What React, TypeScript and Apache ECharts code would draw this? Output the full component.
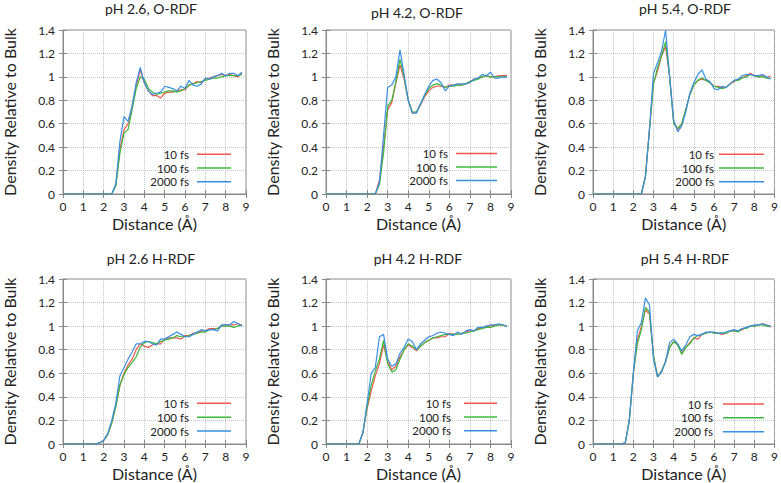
import React, { useEffect, useRef } from "react";
import * as echarts from "echarts";

const distance = [
  0, 0.2, 0.4, 0.6, 0.8, 1.0, 1.2, 1.4, 1.6, 1.8, 2.0, 2.2, 2.4, 2.6, 2.8, 3.0,
  3.2, 3.4, 3.6, 3.8, 4.0, 4.2, 4.4, 4.6, 4.8, 5.0, 5.2, 5.4, 5.6, 5.8, 6.0,
  6.2, 6.4, 6.6, 6.8, 7.0, 7.2, 7.4, 7.6, 7.8, 8.0, 8.2, 8.4, 8.6, 8.8,
];

const seriesNames = ["10 fs", "100 fs", "2000 fs"];
const panelTitles = [
  "pH 2.6, O-RDF",
  "pH 4.2, O-RDF",
  "pH 5.4, O-RDF",
  "pH 2.6 H-RDF",
  "pH 4.2 H-RDF",
  "pH 5.4 H-RDF",
];
const xTicks = [0, 1, 2, 3, 4, 5, 6, 7, 8, 9];
const yTicks = [0, 0.2, 0.4, 0.6, 0.8, 1, 1.2, 1.4];

// pH 2.6 O-RDF
const o26_10 = [0, 0, 0, 0, 0, 0, 0, 0, 0, 0, 0, 0, 0,
  0.08, 0.38, 0.55, 0.6, 0.75, 0.92, 1.06, 0.95, 0.88, 0.84, 0.84, 0.82, 0.86, 0.87, 0.87, 0.88, 0.89, 0.89,
  0.93, 0.94, 0.96, 0.95, 0.98, 0.99, 1.0, 1.01, 1.02, 1.01, 1.02, 1.01, 1.0, 1.03];
const o26_100 = [0, 0, 0, 0, 0, 0, 0, 0, 0, 0, 0, 0, 0,
  0.07, 0.35, 0.52, 0.55, 0.72, 0.9, 1.0, 0.98, 0.9, 0.87, 0.85, 0.86, 0.87, 0.88, 0.88, 0.87, 0.88, 0.9,
  0.93, 0.94, 0.95, 0.96, 0.97, 0.98, 0.99, 0.99, 1.0, 1.01, 1.01, 1.01, 1.01, 1.02];
const o26_2000 = [0, 0, 0, 0, 0, 0, 0, 0, 0, 0, 0, 0, 0,
  0.09, 0.45, 0.66, 0.62, 0.75, 0.95, 1.08, 0.95, 0.88, 0.85, 0.86, 0.87, 0.92, 0.91, 0.9, 0.88, 0.92, 0.9,
  0.97, 0.93, 0.92, 0.94, 0.99, 0.98, 1.0, 1.01, 1.03, 1.01, 1.03, 1.03, 1.01, 1.04];

// pH 4.2 O-RDF
const o42_10 = [0, 0, 0, 0, 0, 0, 0, 0, 0, 0, 0, 0, 0,
  0.12, 0.4, 0.72, 0.78, 0.95, 1.1, 0.98, 0.8, 0.69, 0.7, 0.76, 0.83, 0.88, 0.91, 0.92, 0.92, 0.91, 0.93,
  0.93, 0.93, 0.93, 0.94, 0.96, 0.98, 0.99, 1.0, 1.01, 1.0, 1.0, 1.01, 1.01, 1.01];
const o42_100 = [0, 0, 0, 0, 0, 0, 0, 0, 0, 0, 0, 0, 0,
  0.08, 0.35, 0.75, 0.8, 0.96, 1.15, 1.0, 0.8, 0.7, 0.7, 0.77, 0.84, 0.9, 0.93, 0.94, 0.93, 0.91, 0.92,
  0.92, 0.93, 0.93, 0.94, 0.96, 0.97, 0.98, 1.0, 1.01, 1.0, 1.0, 1.0, 1.0, 1.0];
const o42_2000 = [0, 0, 0, 0, 0, 0, 0, 0, 0, 0, 0, 0, 0,
  0.1, 0.5, 0.91, 0.93, 1.0, 1.23, 1.02, 0.8, 0.69, 0.69, 0.77, 0.85, 0.92, 0.97, 0.98, 0.95, 0.88, 0.92,
  0.93, 0.94, 0.94, 0.94, 0.95, 0.98, 0.99, 1.02, 1.01, 1.04, 0.99, 0.99, 1.0, 1.0];

// pH 5.4 O-RDF
const o54_10 = [0, 0, 0, 0, 0, 0, 0, 0, 0, 0, 0, 0, 0,
  0.15, 0.55, 0.95, 1.05, 1.18, 1.26, 1.0, 0.62, 0.55, 0.6, 0.72, 0.85, 0.93, 0.97, 0.98, 0.97, 0.95, 0.92,
  0.92, 0.91, 0.91, 0.94, 0.96, 0.98, 0.99, 1.01, 1.03, 1.01, 1.0, 1.01, 0.99, 1.01];
const o54_100 = [0, 0, 0, 0, 0, 0, 0, 0, 0, 0, 0, 0, 0,
  0.15, 0.55, 0.94, 1.08, 1.18, 1.3, 1.0, 0.6, 0.56, 0.6, 0.72, 0.85, 0.93, 0.97, 0.99, 0.97, 0.95, 0.92,
  0.91, 0.9, 0.91, 0.94, 0.97, 0.97, 0.99, 1.0, 1.02, 1.01, 1.0, 1.0, 0.99, 0.99];
const o54_2000 = [0, 0, 0, 0, 0, 0, 0, 0, 0, 0, 0, 0, 0,
  0.15, 0.55, 1.03, 1.12, 1.22, 1.4, 1.0, 0.63, 0.53, 0.58, 0.7, 0.86, 0.95, 1.02, 1.06, 0.98, 0.96, 0.9,
  0.89, 0.92, 0.91, 0.94, 0.97, 0.98, 1.01, 1.02, 1.02, 1.01, 1.01, 1.02, 1.0, 0.98];

// pH 2.6 H-RDF
const h26_10 = [0, 0, 0, 0, 0, 0, 0, 0,
  0, 0.01, 0.03, 0.08, 0.18, 0.32, 0.5, 0.6, 0.67, 0.72, 0.8, 0.85, 0.83, 0.82, 0.84, 0.85, 0.85, 0.89,
  0.9, 0.9, 0.9, 0.89, 0.92, 0.92, 0.94, 0.94, 0.96, 0.96, 0.98, 0.98, 0.98, 1.0, 1.01, 1.01, 1.01, 1.02, 1.01];
const h26_100 = [0, 0, 0, 0, 0, 0, 0, 0,
  0, 0.01, 0.03, 0.08, 0.18, 0.32, 0.5, 0.59, 0.65, 0.69, 0.74, 0.82, 0.86, 0.87, 0.86, 0.85, 0.87, 0.88,
  0.89, 0.9, 0.92, 0.91, 0.91, 0.92, 0.93, 0.94, 0.95, 0.95, 0.97, 0.97, 0.98, 1.0, 1.0, 1.0, 0.99, 1.0, 1.01];
const h26_2000 = [0, 0, 0, 0, 0, 0, 0, 0,
  0, 0.01, 0.03, 0.09, 0.2, 0.35, 0.58, 0.65, 0.72, 0.78, 0.85, 0.85, 0.87, 0.87, 0.85, 0.84, 0.89, 0.89,
  0.91, 0.93, 0.95, 0.93, 0.91, 0.91, 0.93, 0.95, 0.97, 0.96, 0.97, 0.97, 0.96, 1.01, 1.01, 1.01, 1.04, 1.02, 1.0];

// pH 4.2 H-RDF
const h42_10 = [0, 0, 0, 0, 0, 0, 0, 0,
  0, 0.1, 0.3, 0.45, 0.58, 0.68, 0.84, 0.7, 0.63, 0.66, 0.74, 0.8, 0.84, 0.82, 0.79, 0.83, 0.86, 0.88,
  0.9, 0.9, 0.91, 0.91, 0.94, 0.93, 0.93, 0.94, 0.95, 0.96, 0.96, 0.98, 0.98, 1.0, 1.0, 1.01, 1.01, 1.01, 1.0];
const h42_100 = [0, 0, 0, 0, 0, 0, 0, 0,
  0, 0.1, 0.32, 0.5, 0.62, 0.72, 0.88, 0.68, 0.61, 0.63, 0.72, 0.8, 0.85, 0.83, 0.8, 0.83, 0.86, 0.88,
  0.9, 0.91, 0.92, 0.93, 0.93, 0.93, 0.93, 0.94, 0.94, 0.95, 0.96, 0.97, 0.98, 0.99, 0.99, 1.0, 1.01, 1.01, 1.0];
const h42_2000 = [0, 0, 0, 0, 0, 0, 0, 0,
  0, 0.1, 0.35, 0.6, 0.65, 0.91, 0.93, 0.72, 0.66, 0.68, 0.77, 0.82, 0.89, 0.87, 0.8, 0.85, 0.88, 0.91,
  0.92, 0.94, 0.95, 0.94, 0.93, 0.92, 0.95, 0.93, 0.96, 0.97, 0.96, 0.99, 0.99, 1.0, 1.01, 1.01, 1.02, 1.01, 1.0];

// pH 5.4 H-RDF
const h54_10 = [0, 0, 0, 0, 0, 0, 0, 0,
  0.01, 0.2, 0.6, 0.88, 1.0, 1.14, 1.1, 0.75, 0.57, 0.62, 0.7, 0.82, 0.87, 0.84, 0.77, 0.82, 0.86, 0.9,
  0.89, 0.93, 0.94, 0.95, 0.94, 0.94, 0.93, 0.94, 0.96, 0.96, 0.96, 0.97, 0.99, 1.0, 1.0, 1.01, 1.02, 1.01, 0.99];
const h54_100 = [0, 0, 0, 0, 0, 0, 0, 0,
  0.01, 0.2, 0.6, 0.85, 0.97, 1.16, 1.12, 0.75, 0.57, 0.62, 0.7, 0.82, 0.87, 0.84, 0.76, 0.82, 0.85, 0.9,
  0.92, 0.93, 0.94, 0.95, 0.94, 0.94, 0.94, 0.94, 0.96, 0.96, 0.95, 0.98, 0.98, 1.0, 1.0, 1.01, 1.01, 1.0, 1.0];
const h54_2000 = [0, 0, 0, 0, 0, 0, 0, 0,
  0.01, 0.2, 0.6, 0.96, 1.03, 1.24, 1.18, 0.72, 0.57, 0.61, 0.7, 0.86, 0.89, 0.85, 0.79, 0.84, 0.91, 0.93,
  0.92, 0.93, 0.95, 0.95, 0.95, 0.94, 0.94, 0.95, 0.96, 0.97, 0.96, 0.98, 0.99, 1.0, 1.01, 1.01, 1.02, 1.01, 1.0];

const panelData = [
  [o26_10, o26_100, o26_2000],
  [o42_10, o42_100, o42_2000],
  [o54_10, o54_100, o54_2000],
  [h26_10, h26_100, h26_2000],
  [h42_10, h42_100, h42_2000],
  [h54_10, h54_100, h54_2000],
];

const COLORS = ["#f0564f", "#3cb83c", "#3a8fe0"];
const FONT = "Lato";
const TEXT = "#222";
const BORDER = "#8a8a8a";

// layout (pixels)
const gridLeft = [59, 326, 593];
const gridWidth = [187, 185, 185];
const gridTop = [30, 279];
const gridHeight = [164, 165];
const titleX = [151, 417, 685, 151, 418, 685];
const titleTop = [1, 5, 1, 251, 251, 251];
const nameGapY = [46, 46, 46, 46, 46, 46];
const legendRight = [550, 284, 17, 550, 284, 17];
const legendIconW = [34, 41, 45, 34, 33, 41];
const legendTextGap = [8, 8, 5, 8, 13, 10];
const legendRows = [
  [154.3, 168, 181.7],
  [153.5, 167, 180.5],
  [154.3, 168, 181.7],
  [403.3, 417.2, 431],
  [403.3, 417, 430.7],
  [404, 417.8, 431.7],
];

export default function App() {
  const ref = useRef<HTMLDivElement>(null);

  useEffect(() => {
    if (!ref.current) return;
    const chart = echarts.init(ref.current, undefined, { renderer: "svg" });

    const grids: any[] = [];
    const xAxes: any[] = [];
    const yAxes: any[] = [];
    const mirrorX: any[] = [];
    const mirrorY: any[] = [];
    const series: any[] = [];
    const titles: any[] = [];
    const legends: any[] = [];

    for (let i = 0; i < 6; i++) {
      const col = i % 3;
      const row = Math.floor(i / 3);
      grids.push({
        left: gridLeft[col],
        top: gridTop[row],
        width: gridWidth[col],
        height: gridHeight[row],
        show: true,
        borderColor: BORDER,
        borderWidth: 1,
        backgroundColor: "transparent",
        containLabel: false,
      });
      xAxes.push({
        gridIndex: i,
        type: "value",
        min: xTicks[0],
        max: xTicks[xTicks.length - 1],
        interval: 1,
        axisLine: { show: true, lineStyle: { color: BORDER, width: 1 } },
        axisTick: { show: true, inside: true, length: 4, lineStyle: { color: BORDER } },
        axisLabel: { color: TEXT, fontSize: 12, fontFamily: FONT, margin: 6 },
        splitLine: { show: true, lineStyle: { color: "#c4c4c4", type: "dotted", width: 1 } },
        name: "Distance (Å)",
        nameLocation: "middle",
        nameGap: 21,
        nameTextStyle: { color: TEXT, fontSize: 16, fontFamily: FONT },
      });
      mirrorX.push({
        gridIndex: i,
        type: "value",
        position: "top",
        min: xTicks[0],
        max: xTicks[xTicks.length - 1],
        interval: 1,
        axisLine: { show: false },
        axisTick: { show: true, inside: true, length: 4, lineStyle: { color: BORDER } },
        axisLabel: { show: false },
        splitLine: { show: false },
      });
      yAxes.push({
        gridIndex: i,
        type: "value",
        min: yTicks[0],
        max: yTicks[yTicks.length - 1],
        interval: 0.2,
        axisLine: { show: true, lineStyle: { color: BORDER, width: 1 } },
        axisTick: { show: true, inside: true, length: 4, lineStyle: { color: BORDER } },
        axisLabel: { color: TEXT, fontSize: 12, fontFamily: FONT, margin: 8 },
        splitLine: { show: true, lineStyle: { color: "#c4c4c4", type: "dotted", width: 1 } },
        name: "Density Relative to Bulk",
        nameLocation: "middle",
        nameGap: nameGapY[i],
        nameTextStyle: { color: TEXT, fontSize: 16, fontFamily: FONT },
      });
      mirrorY.push({
        gridIndex: i,
        type: "value",
        position: "right",
        min: yTicks[0],
        max: yTicks[yTicks.length - 1],
        interval: 0.2,
        axisLine: { show: false },
        axisTick: { show: true, inside: true, length: 4, lineStyle: { color: BORDER } },
        axisLabel: { show: false },
        splitLine: { show: false },
      });
      titles.push({
        text: panelTitles[i],
        left: titleX[i],
        top: titleTop[i],
        textAlign: "center",
        padding: 0,
        textStyle: { color: TEXT, fontSize: 14, fontWeight: "normal", fontFamily: FONT },
      });
      for (let s = 0; s < 3; s++) {
        series.push({
          type: "line",
          name: seriesNames[s],
          xAxisIndex: i,
          yAxisIndex: i,
          data: distance.map((d, k) => [d, panelData[i][s][k]]),
          showSymbol: false,
          symbol: "none",
          lineStyle: { color: COLORS[s], width: 1.2 },
          itemStyle: { color: COLORS[s] },
          z: 2 + s,
        });
        legends.push({
          data: [seriesNames[s]],
          orient: "horizontal",
          align: "right",
          right: legendRight[i],
          top: legendRows[i][s] - 6,
          padding: 0,
          icon: "rect",
          itemWidth: legendIconW[i],
          itemHeight: 1.5,
          selectedMode: false,
          textStyle: {
            color: TEXT,
            fontSize: 11.5,
            fontFamily: FONT,
            lineHeight: 12,
            padding: [0, legendTextGap[i] - 5, 0, 0],
          },
        });
      }
    }

    chart.setOption({
      animation: false,
      backgroundColor: "#ffffff",
      title: titles,
      grid: grids,
      xAxis: [...xAxes, ...mirrorX],
      yAxis: [...yAxes, ...mirrorY],
      legend: legends,
      series,
    });

    return () => chart.dispose();
  }, []);

  return (
    <div
      ref={ref}
      style={{ position: "fixed", left: 0, top: 0, width: 781, height: 483, background: "#fff" }}
    />
  );
}
